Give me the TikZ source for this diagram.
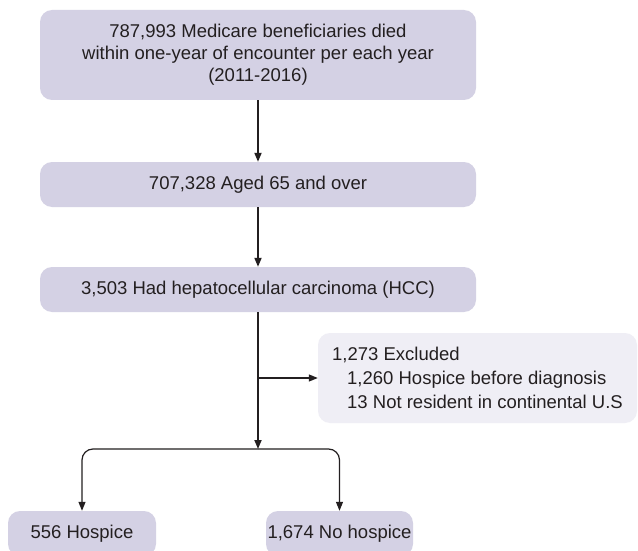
\documentclass[tikz,border=0pt]{standalone}
\usepackage{fontspec}
\setmainfont{Liberation Sans}
\usetikzlibrary{arrows.meta}
\definecolor{boxfill}{HTML}{D4D1E4}
\definecolor{exfill}{HTML}{EFEEF5}
\definecolor{ink}{HTML}{231F20}
\tikzset{
  mainbox/.style={fill=boxfill, draw=none, rounded corners=12pt, inner sep=0pt, align=center, text=ink, font=\fontsize{18.5}{22}\selectfont},
  exbox/.style={fill=exfill, draw=none, rounded corners=12pt, inner xsep=0pt, inner ysep=0pt, align=left, text=ink, font=\fontsize{18.5}{24}\selectfont},
  thickarrow/.style={draw=ink, line width=1.8pt, -{Triangle[length=9pt,width=7pt]}},
  thinarrow/.style={draw=ink, line width=1.2pt, -{Triangle[length=9pt,width=7pt]}},
}
\begin{document}
\begin{tikzpicture}[x=1pt,y=-1pt]
\clip (0,0) rectangle (638,551);
\fill[white] (0,0) rectangle (638,551);
\node[mainbox, minimum width=436pt, minimum height=90pt] (b1) at (258,55)
  {787,993 Medicare beneficiaries died\\within one-year of encounter per each year\\(2011-2016)};
\node[mainbox, minimum width=436pt, minimum height=45pt] (b2) at (258,184.5)
  {707,328 Aged 65 and over};
\node[mainbox, minimum width=436pt, minimum height=45pt] (b3) at (258,289.5)
  {3,503 Had hepatocellular carcinoma (HCC)};
\node[exbox, minimum width=319pt, minimum height=90pt] (ex) at (477.5,378)
  {1,273 Excluded\\\hspace*{15pt}1,260 Hospice before diagnosis\\\hspace*{15pt}13 Not resident in continental U.S};
\node[mainbox, minimum width=148pt, minimum height=45pt] (hos) at (82,533.5) {556 Hospice};
\node[mainbox, minimum width=147pt, minimum height=45pt] (nohos) at (339.5,533.5) {1,674 No hospice};
\coordinate (split) at (258,449);
\coordinate (branch) at (258,378);
\draw[thickarrow] (b1.south) -- (b2.north);
\draw[thickarrow] (b2.south) -- (b3.north);
\draw[thickarrow] (b3.south) -- (split);
\draw[thinarrow] (branch) -- (ex.west);
\draw[thinarrow, rounded corners=11pt] (split) -| (hos.north);
\draw[thinarrow, rounded corners=11pt] (split) -| (nohos.north);
\end{tikzpicture}
\end{document}
